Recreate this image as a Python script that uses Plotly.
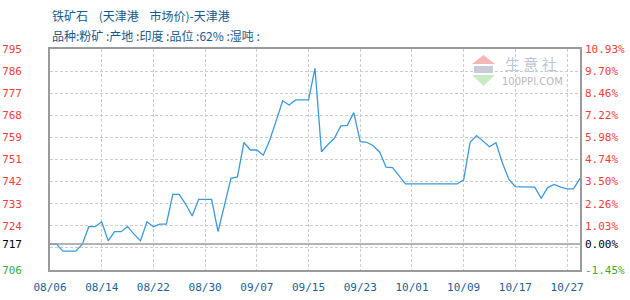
import pandas as pd
import plotly.graph_objects as go

# ---------------- data ----------------
_all = pd.date_range("2019-08-06", "2019-10-29")
_all = _all[~_all.isin(pd.to_datetime(["2019-10-19", "2019-10-20"]))]
DATES = [d.strftime("%m/%d") for d in _all]

PRICES = [
    717, 717, 714.2, 714.2, 714.2, 717, 724, 724, 726, 718.3,
    722, 722, 724, 721, 718.3, 726, 724, 725, 725, 737,
    737, 733, 728.3, 735, 735, 735, 722, 733, 743.4, 744,
    757.8, 754.8, 754.8, 752.7, 758.8, 766.6, 774.6, 772.9, 774.9, 774.9,
    774.9, 787.6, 754.1, 757, 759.5, 764.5, 764.7, 769.8, 758.2, 757.9,
    756.5, 754, 747.9, 747.7, 744.4, 741.2, 741.2, 741.2, 741.2, 741.2,
    741.2, 741.2, 741.2, 741.2, 742.8, 757.9, 760.6, 758.4, 756.1, 757.7,
    749.6, 743, 740.1, 740, 740, 739.9, 735.4, 739.7, 741, 739.9,
    739.2, 739.2, 743.4,
]

BASE = 717
PCT_LABELS = ["-1.45%", "0.00%", "1.03%", "2.26%", "3.50%", "4.74%",
              "5.98%", "7.22%", "8.46%", "9.70%", "10.93%"]
LEFT_LABELS = ["706", "717", "724", "733", "742", "751",
               "759", "768", "777", "786", "795"]
X_TICK_DATES = ["08/06", "08/14", "08/22", "08/30", "09/07", "09/15",
                "09/23", "10/01", "10/09", "10/17", "10/27"]

NB = "\u00a0"
TITLE = f"铁矿石{NB*4}(天津港{NB*4}市场价)-天津港"
SUBTITLE = f"品种:粉矿{NB}:产地{NB}:印度{NB}:品位{NB}:62%{NB}:湿吨{NB}:"

# ---------------- derived ----------------
tick_pos = [BASE * (1 + float(p.strip("%")) / 100) for p in PCT_LABELS]
y_lo, y_hi = tick_pos[0], tick_pos[-1]
grid_step = (y_hi - y_lo) / 10

RED, GREEN, BLACK = "#f23c3c", "#3aaa3a", "#000000"


def col(v):
    return BLACK if abs(v - BASE) < 1e-6 else (RED if v > BASE else GREEN)


left_text = [f"<span style='color:{col(v)}'>{t}</span>" for v, t in zip(tick_pos, LEFT_LABELS)]
right_text = [f"<span style='color:{col(v)}'>{t}</span>" for v, t in zip(tick_pos, PCT_LABELS)]

x_tickvals = [DATES.index(d) for d in X_TICK_DATES]
xs = list(range(len(PRICES)))

fig = go.Figure()
fig.add_trace(go.Scatter(
    x=xs, y=PRICES, mode="lines",
    line=dict(color="#3a9ad9", width=1.3), hoverinfo="skip", showlegend=False,
))
# invisible companions so the overlaying label axes are drawn
for ya in ("y2", "y3"):
    fig.add_trace(go.Scatter(x=xs, y=PRICES, yaxis=ya, mode="lines",
                             line=dict(width=0), opacity=0, hoverinfo="skip",
                             showlegend=False))
fig.add_hline(y=BASE, line=dict(color="#9a9a9a", width=1.5), layer="above")

GRID = "#cccccc"
AX = "#9a9a9a"
TICKFONT = dict(family="DejaVu Sans Mono", size=11)

fig.update_layout(
    width=630, height=300,
    margin=dict(l=50, r=50, t=49, b=30, autoexpand=False),
    paper_bgcolor="white", plot_bgcolor="white",
    xaxis=dict(
        range=[0, len(PRICES) - 1], tickmode="array", tickvals=x_tickvals,
        ticktext=X_TICK_DATES, showgrid=True, gridcolor=GRID, griddash="3px,2px",
        gridwidth=1, showline=True, linecolor=AX, linewidth=1.5, mirror=True,
        ticks="", zeroline=False, tickfont=dict(TICKFONT, color="#1b5f94"),
        ticklabelstandoff=6, automargin=False,
    ),
    yaxis=dict(
        range=[y_lo, y_hi], tickmode="linear", tick0=y_lo, dtick=grid_step,
        showgrid=True, gridcolor=GRID, griddash="3px,2px", gridwidth=1,
        showticklabels=False, showline=True, linecolor=AX, linewidth=1.5,
        mirror=True, zeroline=False, ticks="", automargin=False,
    ),
    yaxis2=dict(
        range=[y_lo, y_hi], overlaying="y", side="right", tickmode="array",
        tickvals=tick_pos, ticktext=right_text, showgrid=False, zeroline=False,
        showline=False, ticks="", tickfont=TICKFONT, ticklabelstandoff=4,
        automargin=False,
    ),
    yaxis3=dict(
        range=[y_lo, y_hi], overlaying="y", side="left", tickmode="array",
        tickvals=tick_pos, ticktext=left_text, showgrid=False, zeroline=False,
        showline=False, ticks="", tickfont=TICKFONT, ticklabelstandoff=27,
        automargin=False,
    ),
)

# titles
fig.add_annotation(text=TITLE, xref="paper", yref="paper", x=0, y=1,
                   xanchor="left", yanchor="middle", yshift=34, showarrow=False,
                   font=dict(family="Noto Sans CJK SC", size=12, color="#17598a"))
fig.add_annotation(text=SUBTITLE, xref="paper", yref="paper", x=0, y=1,
                   xanchor="left", yanchor="middle", yshift=14, showarrow=False,
                   font=dict(family="Noto Sans CJK SC", size=12, color="#17598a"))


# watermark (decorative)
def px(x):
    return (x - 50) / 530


def py(y):
    return (270 - y) / 221


fig.add_shape(type="path", xref="paper", yref="paper",
              path=f"M {px(472)} {py(64)} L {px(483.5)} {py(55)} L {px(495)} {py(64)} Z",
              fillcolor="#f4b6b6", line=dict(width=0))
fig.add_shape(type="rect", xref="paper", yref="paper",
              x0=px(474), x1=px(493), y0=py(73), y1=py(66),
              fillcolor="#c9ccd6", line=dict(width=0))
fig.add_shape(type="path", xref="paper", yref="paper",
              path=f"M {px(472)} {py(75)} L {px(495)} {py(75)} L {px(483.5)} {py(86)} Z",
              fillcolor="#c6ecc6", line=dict(width=0))
fig.add_annotation(text="生 意 社", xref="paper", yref="paper", x=px(531), y=py(63),
                   xanchor="center", yanchor="middle", showarrow=False,
                   font=dict(family="Noto Sans CJK SC", size=15, color="#bcc6d6"))
fig.add_annotation(text="100PPI.COM", xref="paper", yref="paper", x=px(532), y=py(81),
                   xanchor="center", yanchor="middle", showarrow=False,
                   font=dict(family="DejaVu Sans", size=10, color="#b8b8b8"))

fig.write_html("out.html")
